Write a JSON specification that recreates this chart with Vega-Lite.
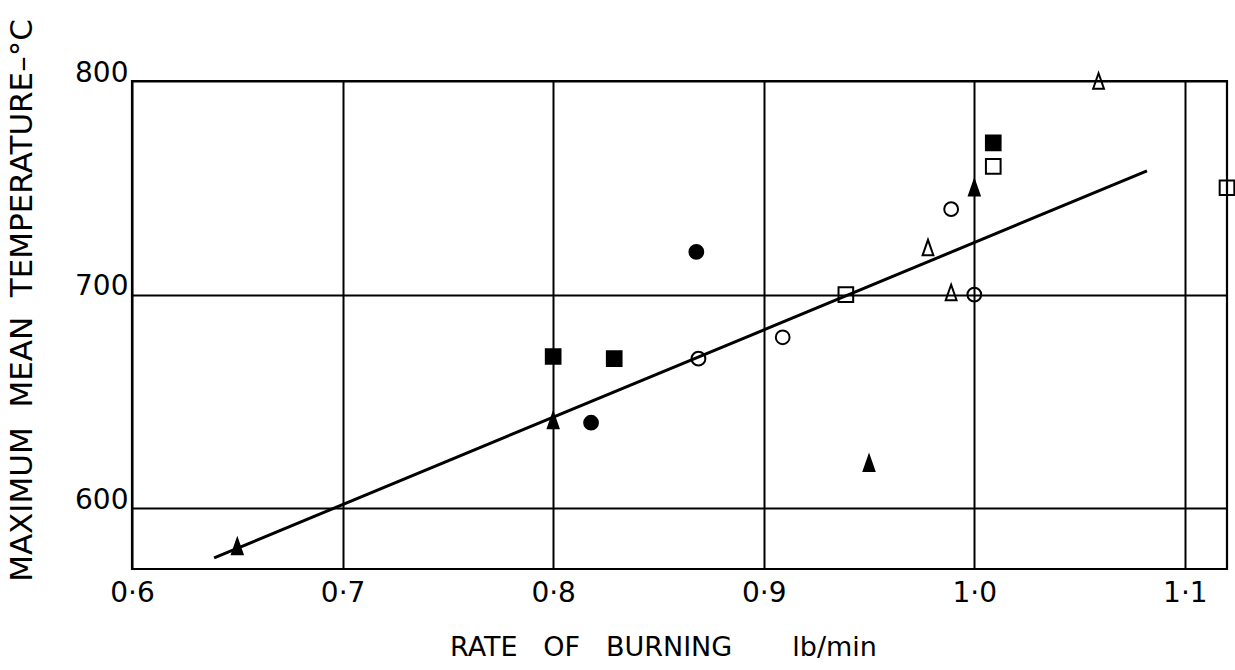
{
  "$schema": "https://vega.github.io/schema/vega-lite/v6.json",
  "autosize": "none",
  "width": 1095,
  "height": 488,
  "padding": {"left": 132, "top": 81, "right": 8, "bottom": 101},
  "background": "white",
  "config": {
    "view": {"stroke": "black", "strokeWidth": 2.2},
    "font": "DejaVu Sans"
  },
  "datasets": {
    "pts": [
      {"rate": 0.65, "temp": 582, "marker": "triangle", "fill": "filled"},
      {"rate": 0.80, "temp": 641, "marker": "triangle", "fill": "filled"},
      {"rate": 0.95, "temp": 621, "marker": "triangle", "fill": "filled"},
      {"rate": 1.00, "temp": 750, "marker": "triangle", "fill": "filled"},
      {"rate": 0.818, "temp": 640, "marker": "circle", "fill": "filled"},
      {"rate": 0.868, "temp": 720, "marker": "circle", "fill": "filled"},
      {"rate": 0.80, "temp": 671, "marker": "square", "fill": "filled"},
      {"rate": 0.829, "temp": 670, "marker": "square", "fill": "filled"},
      {"rate": 1.009, "temp": 771, "marker": "square", "fill": "filled"},
      {"rate": 0.869, "temp": 670, "marker": "circle", "fill": "open"},
      {"rate": 0.909, "temp": 680, "marker": "circle", "fill": "open"},
      {"rate": 0.989, "temp": 740, "marker": "circle", "fill": "open"},
      {"rate": 1.00, "temp": 700, "marker": "circle", "fill": "open"},
      {"rate": 0.939, "temp": 700, "marker": "square", "fill": "open"},
      {"rate": 1.009, "temp": 760, "marker": "square", "fill": "open"},
      {"rate": 1.12, "temp": 750, "marker": "square", "fill": "open"},
      {"rate": 0.978, "temp": 722, "marker": "triangle", "fill": "open"},
      {"rate": 0.989, "temp": 701, "marker": "triangle", "fill": "open"},
      {"rate": 1.059, "temp": 800, "marker": "triangle", "fill": "open"}
    ],
    "fit": [
      {"rate": 0.639, "temp": 576.7},
      {"rate": 1.082, "temp": 757.9}
    ]
  },
  "encoding": {
    "x": {
      "field": "rate",
      "type": "quantitative",
      "scale": {"domain": [0.6, 1.12], "nice": false, "zero": false},
      "axis": {
        "values": [0.6, 0.7, 0.8, 0.9, 1.0, 1.1],
        "labelExpr": "replace(format(datum.value, '.1f'), '.', '·')",
        "labelFontSize": 28,
        "labelColor": "black",
        "labelPadding": 10,
        "labelFlush": false,
        "ticks": false,
        "domain": false,
        "grid": true,
        "gridColor": "black",
        "gridWidth": 2,
        "gridOpacity": 1,
        "title": "RATE\u00a0\u00a0\u00a0OF\u00a0\u00a0\u00a0BURNING\u00a0\u00a0\u00a0\u00a0\u00a0\u00a0\u00a0lb/min",
        "titleFontSize": 27,
        "titleFontWeight": "normal",
        "titleColor": "black",
        "titleX": 531,
        "titleY": 78,
        "titleAlign": "center",
        "titleBaseline": "middle"
      }
    },
    "y": {
      "field": "temp",
      "type": "quantitative",
      "scale": {"domain": [571.5, 800], "nice": false, "zero": false},
      "axis": {
        "values": [600, 700, 800],
        "labelFontSize": 28,
        "labelColor": "black",
        "labelPadding": 4,
        "labelBaseline": "alphabetic",
        "labelFlush": false,
        "ticks": false,
        "domain": false,
        "grid": true,
        "gridColor": "black",
        "gridWidth": 2,
        "gridOpacity": 1,
        "title": "MAXIMUM\u00a0\u00a0MEAN\u00a0\u00a0TEMPERATURE\u2013\u00b0C",
        "titleFontSize": 31,
        "titleFontWeight": "normal",
        "titleColor": "black",
        "titleAngle": -90,
        "titleX": -110,
        "titleY": 219,
        "titleAlign": "center",
        "titleBaseline": "middle"
      }
    }
  },
  "layer": [
    {
      "data": {"name": "fit"},
      "mark": {"type": "line", "color": "black", "strokeWidth": 3, "clip": false}
    },
    {
      "data": {"name": "pts"},
      "mark": {"type": "point", "filled": true, "fill": "black", "stroke": "black", "strokeWidth": 2, "opacity": 1, "clip": false},
      "encoding": {
        "shape": {
          "field": "marker",
          "type": "nominal",
          "scale": {"domain": ["circle", "square", "triangle"], "range": ["circle", "square", "M-0.7,1L0,-1L0.7,1Z"]},
          "legend": null
        },
        "size": {
          "field": "marker",
          "type": "nominal",
          "scale": {"domain": ["circle", "square", "triangle"], "range": [190, 240, 380]},
          "legend": null
        },
        "fillOpacity": {
          "field": "fill",
          "type": "nominal",
          "scale": {"domain": ["filled", "open"], "range": [1, 0]},
          "legend": null
        }
      }
    }
  ]
}
